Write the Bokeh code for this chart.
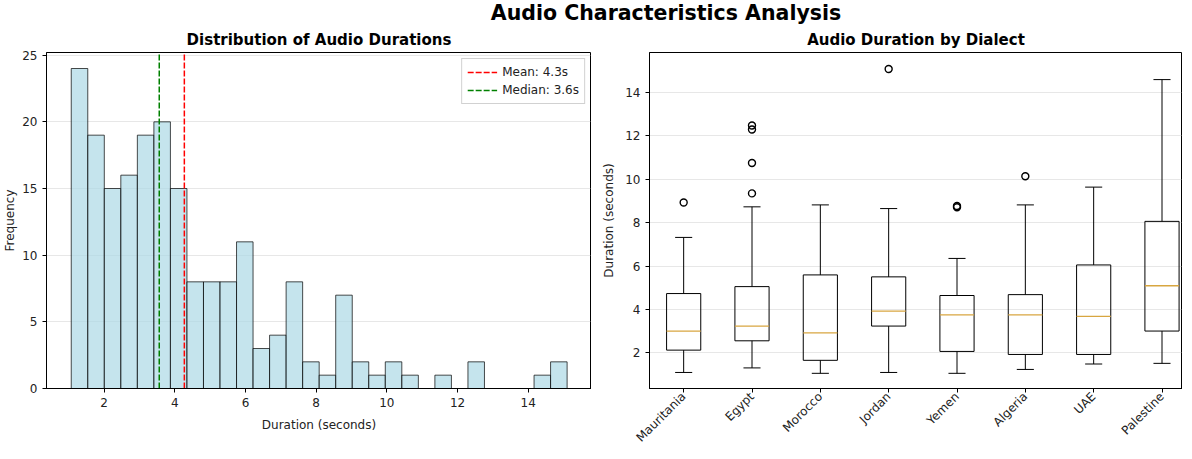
import math
import numpy as np
from bokeh.plotting import figure
from bokeh.models import Range1d, FixedTicker, Legend, LegendItem, Div, ColumnDataSource
from bokeh.layouts import column, row
from bokeh.embed import file_html
from bokeh.resources import INLINE

# ---------------- data ----------------
bin_counts = [24, 19, 15, 16, 19, 20, 15, 8, 8, 8, 11, 3, 4, 8, 2, 1, 7, 2, 1, 2,
              1, 0, 1, 0, 2, 0, 0, 0, 1, 2]
duration_min = 1.07
duration_max = 15.10
mean_duration = 4.27
median_duration = 3.56

dialects = ["Mauritania", "Egypt", "Morocco", "Jordan", "Yemen", "Algeria", "UAE", "Palestine"]
whisker_low = [1.09, 1.30, 1.05, 1.09, 1.05, 1.23, 1.48, 1.51]
q1 = [2.12, 2.55, 1.65, 3.23, 2.06, 1.92, 1.92, 3.00]
median_vals = [3.00, 3.23, 2.92, 3.92, 3.75, 3.75, 3.68, 5.09]
q3 = [4.73, 5.05, 5.59, 5.50, 4.64, 4.68, 6.05, 8.06]
whisker_high = [7.32, 8.73, 8.82, 8.65, 6.35, 8.82, 9.64, 14.60]
outlier_dialect = ["Mauritania", "Egypt", "Egypt", "Egypt", "Egypt", "Jordan", "Yemen", "Yemen", "Algeria"]
outlier_value = [8.93, 9.35, 10.75, 12.30, 12.48, 15.09, 8.77, 8.71, 10.14]

FONT = "DejaVu Sans"
DASH = "6 2"
HIST_YMAX = 1.05 * max(bin_counts)
FRAME_H = 336


def style(p):
    p.outline_line_color = "black"
    p.outline_line_alpha = 1
    p.outline_line_width = 1
    p.title.text_font = FONT
    p.title.text_font_size = "15px"
    p.title.text_font_style = "bold"
    p.title.align = "center"
    p.title.text_color = "black"
    p.title.standoff = 8
    for ax in [p.xaxis[0], p.yaxis[0]]:
        ax.axis_line_color = "black"
        ax.major_tick_line_color = "black"
        ax.major_tick_out = 4
        ax.major_tick_in = 0
        ax.minor_tick_line_color = None
        ax.major_label_text_font = FONT
        ax.major_label_text_font_size = "12px"
        ax.major_label_text_color = "#222222"
        ax.axis_label_text_font = FONT
        ax.axis_label_text_font_size = "12px"
        ax.axis_label_text_font_style = "normal"
        ax.axis_label_text_color = "#222222"
    p.xgrid.grid_line_color = None
    p.ygrid.grid_line_color = "#b0b0b0"
    p.ygrid.grid_line_alpha = 0.3
    p.background_fill_color = "white"
    p.border_fill_color = "white"


# ---------------- histogram ----------------
edges = np.linspace(duration_min, duration_max, len(bin_counts) + 1)
hist_src = ColumnDataSource(dict(left=edges[:-1], right=edges[1:], top=bin_counts,
                                 bottom=[0] * len(bin_counts)))

p1 = figure(frame_width=545, frame_height=FRAME_H, output_backend="svg", toolbar_location=None,
            title="Distribution of Audio Durations",
            x_range=Range1d(0.37, 15.79), y_range=Range1d(0, HIST_YMAX),
            min_border_left=30, min_border_right=0, min_border_top=0, min_border_bottom=62)
p1.quad(left="left", right="right", top="top", bottom="bottom", source=hist_src,
        fill_color="lightblue", fill_alpha=0.7, line_color="black", line_alpha=0.7, line_width=1)

r_mean = p1.line(x=[mean_duration, mean_duration], y=[0, HIST_YMAX],
                 line_color="red", line_dash=DASH, line_width=1.5)
r_median = p1.line(x=[median_duration, median_duration], y=[0, HIST_YMAX],
                   line_color="green", line_dash=DASH, line_width=1.5)
legend = Legend(items=[LegendItem(label=f"Mean: {mean_duration:.1f}s", renderers=[r_mean]),
                       LegendItem(label=f"Median: {median_duration:.1f}s", renderers=[r_median])],
                location="top_right")
legend.label_text_font = FONT
legend.label_text_font_size = "12px"
legend.label_text_color = "#222222"
legend.border_line_color = "#cccccc"
legend.border_line_alpha = 0.9
legend.background_fill_alpha = 0.9
legend.padding = 5
legend.spacing = 2
legend.margin = 6
legend.glyph_width = 30
legend.glyph_height = 16
legend.label_height = 16
p1.add_layout(legend)

style(p1)
p1.xaxis.ticker = FixedTicker(ticks=[2, 4, 6, 8, 10, 12, 14])
p1.yaxis.ticker = FixedTicker(ticks=[0, 5, 10, 15, 20, 25])
p1.xaxis.axis_label = "Duration (seconds)"
p1.yaxis.axis_label = "Frequency"
p1.yaxis.axis_label_standoff = 2
p1.xaxis.axis_label_standoff = 8

# ---------------- box plot ----------------
pos = list(range(1, len(dialects) + 1))
box_src = ColumnDataSource(dict(
    x=pos,
    left=[x - 0.25 for x in pos], right=[x + 0.25 for x in pos],
    cap_l=[x - 0.125 for x in pos], cap_r=[x + 0.125 for x in pos],
    low=whisker_low, q1=q1, med=median_vals, q3=q3, high=whisker_high))
out_x = [dialects.index(d) + 1 for d in outlier_dialect]

p2 = figure(frame_width=533, frame_height=FRAME_H, output_backend="svg", toolbar_location=None,
            title="Audio Duration by Dialect",
            x_range=Range1d(0.5, 8.3), y_range=Range1d(0.35, 15.85),
            min_border_left=58, min_border_right=0, min_border_top=0, min_border_bottom=40)
p2.segment(x0="x", x1="x", y0="q3", y1="high", source=box_src, line_color="black", line_width=1)
p2.segment(x0="x", x1="x", y0="low", y1="q1", source=box_src, line_color="black", line_width=1)
p2.segment(x0="cap_l", x1="cap_r", y0="high", y1="high", source=box_src, line_color="black", line_width=1)
p2.segment(x0="cap_l", x1="cap_r", y0="low", y1="low", source=box_src, line_color="black", line_width=1)
p2.quad(left="left", right="right", bottom="q1", top="q3", source=box_src,
        fill_color=None, line_color="black", line_width=1)
p2.segment(x0="left", x1="right", y0="med", y1="med", source=box_src, line_color="#d8a640", line_width=1.3)
p2.scatter(x=out_x, y=outlier_value, marker="circle", size=7, fill_color=None,
           line_color="black", line_width=1.4)

style(p2)
p2.xaxis.ticker = FixedTicker(ticks=pos)
p2.xaxis.major_label_overrides = {x: d for x, d in zip(pos, dialects)}
p2.xaxis.major_label_orientation = math.pi / 4
p2.xaxis.major_label_standoff = 2
p2.yaxis.ticker = FixedTicker(ticks=[2, 4, 6, 8, 10, 12, 14])
p2.yaxis.axis_label = "Duration (seconds)"
p2.yaxis.axis_label_standoff = 6

suptitle = Div(text='<div style="position:relative; left:73px; top:1px; width:1176px; text-align:center; '
                    'font-family:\'DejaVu Sans\'; font-weight:bold; font-size:20.5px; line-height:14px; '
                    'color:black; white-space:nowrap;">Audio Characteristics Analysis</div>',
               width=1176, height=14)

layout = column(suptitle, row(p1, p2))

open("out.html", "w").write(file_html(layout, INLINE))
